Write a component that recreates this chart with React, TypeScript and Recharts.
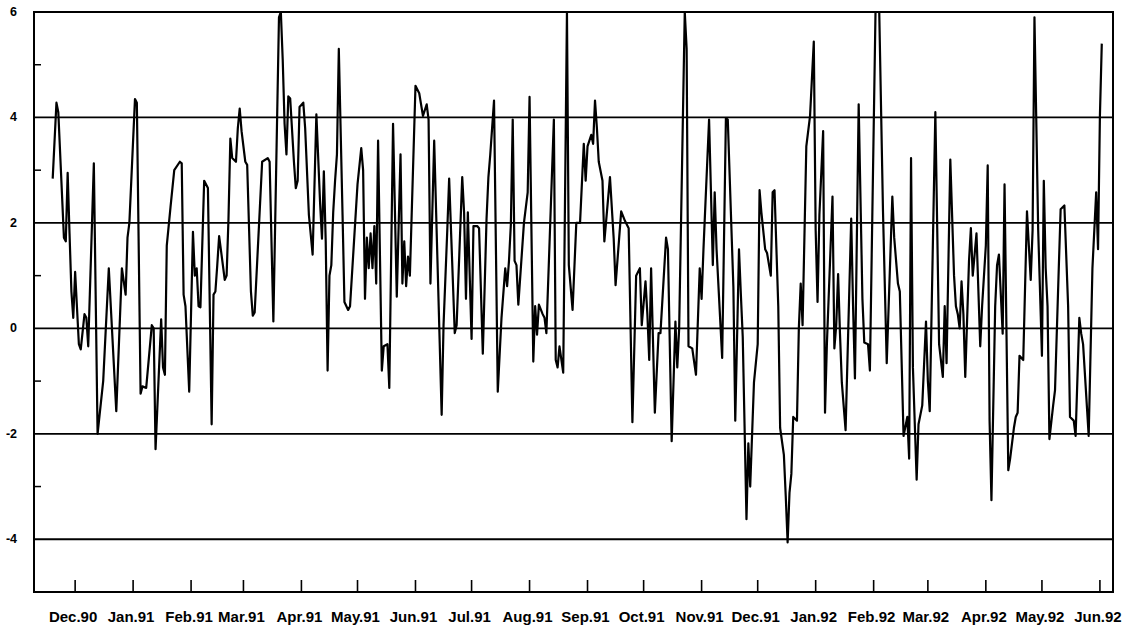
import React from 'react';
import { LineChart, Line, XAxis, YAxis, ReferenceLine, ReferenceArea } from 'recharts';

// day offsets from 1 Dec 1990
const days = [
  -12,-10,-9,-6,-5,-4,-3,-2,-1,0,
  2,3,5,6,7,10,12,15,18,22,
  25,27,28,29,32,33,35,36,38,41,
  42,43,46,47,48,49,51,53,56,57,
  58,59,61,63,64,65,66,67,69,71,
  73,74,75,76,77,79,80,81,82,83,
  84,86,87,88,89,91,92,94,95,96,
  100,103,104,106,109,110,111,112,113,114,
  115,117,118,119,120,122,123,125,127,129,
  131,132,133,134,135,136,137,138,139,140,
  141,143,144,146,147,151,153,154,155,156,
  157,158,159,160,161,162,164,165,167,168,
  170,172,174,175,176,177,178,179,182,184,
  186,188,189,190,192,196,197,199,200,203,
  204,207,208,209,210,212,213,215,216,218,
  220,221,222,224,226,228,230,231,232,233,
  234,235,236,237,240,242,243,245,246,247,
  248,250,251,252,256,257,258,259,261,263,
  264,266,268,270,272,273,274,276,277,278,
  279,280,282,283,286,288,289,292,294,296,
  298,300,302,303,305,306,307,308,310,312,
  313,316,317,319,321,322,323,326,327,328,
  330,332,334,335,336,339,340,341,342,343,
  346,348,349,352,353,355,356,357,359,360,
  361,363,365,366,367,369,370,372,373,374,
  376,377,379,380,381,382,383,384,386,387,
  388,389,391,393,395,396,397,398,400,401,
  402,405,406,407,408,409,410,412,415,416,
  417,419,421,422,424,425,428,430,432,434,
  437,438,440,441,443,445,446,447,448,450,
  451,453,455,456,457,460,462,464,465,466,
  468,470,471,472,473,474,475,476,478,479,
  480,482,484,485,487,488,489,490,492,493,
  494,496,497,499,500,502,503,504,505,507,
  509,510,511,512,513,515,517,518,519,520,
  521,523,524,526,527,529,531,532,534,535,
  537,538,539,542,544,546,547,548,549,
];

const values = [
  2.84,4.28,4.1,1.72,1.65,2.95,1.8,0.7,0.2,1.07,
  -0.3,-0.4,0.27,0.2,-0.34,3.13,-2.0,-1.0,1.14,-1.57,
  1.14,0.64,1.72,2.0,4.35,4.28,-1.24,-1.1,-1.13,0.06,
  0.0,-2.29,0.17,-0.74,-0.88,1.57,2.3,3.0,3.16,3.13,
  0.64,0.42,-1.2,1.83,1.0,1.14,0.42,0.4,2.8,2.66,
  -1.82,0.64,0.7,1.2,1.75,1.2,0.92,1.0,2.08,3.6,
  3.23,3.16,3.8,4.17,3.74,3.16,3.1,0.7,0.24,0.3,
  3.16,3.23,3.16,0.13,5.9,6.0,5.1,3.88,3.3,4.4,
  4.36,3.16,2.66,2.8,4.2,4.28,3.8,2.15,1.4,4.06,
  2.37,1.7,2.98,1.65,-0.8,1.0,1.2,2.2,2.8,3.3,
  5.3,2.15,0.5,0.35,0.42,2.73,3.42,3.0,0.56,1.72,
  1.14,1.8,1.14,1.94,0.85,3.56,-0.8,-0.34,-0.3,-1.13,
  3.88,0.6,3.3,0.85,1.65,0.8,1.36,1.0,4.6,4.46,
  4.03,4.25,3.96,0.85,3.56,-1.64,0.06,1.86,2.84,-0.09,
  0.06,2.87,2.19,0.56,2.2,-0.2,1.94,1.94,1.9,-0.48,
  2.08,2.87,3.3,4.32,-1.2,0.2,1.14,0.8,1.28,1.97,
  3.96,1.28,1.2,0.45,2.0,2.58,4.39,-0.63,0.42,-0.12,
  0.45,0.27,0.2,-0.09,3.96,-0.6,-0.74,-0.34,-0.84,6.0,
  1.2,0.35,2.0,2.0,3.5,2.8,3.45,3.67,3.5,4.32,
  3.81,3.16,2.8,1.65,2.87,1.7,0.82,2.22,2.04,1.9,
  -1.78,1.0,1.14,0.06,0.89,0.27,-0.6,1.14,-1.6,-0.09,
  -0.09,1.72,1.5,-2.14,0.13,-0.74,0.0,6.0,5.3,-0.34,
  -0.38,-0.88,1.14,0.56,1.5,3.96,2.6,1.2,2.58,1.5,
  -0.56,3.99,3.96,0.78,-1.75,1.5,0.64,-0.16,-3.62,-2.18,
  -3.0,-1.03,-0.3,2.62,2.19,1.5,1.43,1.0,2.58,2.62,
  0.42,-1.89,-2.4,-3.18,-4.06,-3.12,-2.76,-1.68,-1.75,0.0,
  0.85,0.06,3.45,4.03,5.44,1.86,0.5,2.15,3.74,-1.6,
  -0.3,2.5,-0.38,0.06,1.03,-0.1,-1.03,-1.93,2.08,0.42,
  -0.95,4.25,0.56,-0.27,-0.3,-0.8,6.0,6.0,2.22,-0.66,
  2.5,1.72,0.85,0.7,-2.04,-1.68,-2.47,3.23,-0.74,-2.87,
  -1.82,-1.46,0.13,-1.0,-1.57,4.1,-0.3,-0.92,0.42,-0.66,
  3.2,1.0,0.42,0.27,0.0,0.89,0.27,-0.92,1.28,1.9,
  1.0,1.8,-0.34,0.42,1.57,3.09,-1.75,-3.26,0.42,1.2,
  1.4,-0.1,2.73,-2.69,-2.47,-1.89,-1.68,-1.6,-0.52,-0.6,
  2.22,1.57,0.92,1.86,5.9,1.86,-0.52,2.8,1.14,0.42,
  -2.1,-1.46,-1.17,1.14,2.26,2.33,0.42,-1.68,-1.75,-2.04,
  0.2,-0.1,-0.3,-2.04,1.14,2.58,1.5,4.03,5.4,
];

const monthTicks = [0, 31, 62, 90, 121, 151, 182, 212, 243, 274, 304, 335, 365, 396, 427, 456, 487, 517, 548];
const monthLabels = [
  'Dec.90', 'Jan.91', 'Feb.91', 'Mar.91', 'Apr.91', 'May.91', 'Jun.91', 'Jul.91', 'Aug.91', 'Sep.91',
  'Oct.91', 'Nov.91', 'Dec.91', 'Jan.92', 'Feb.92', 'Mar.92', 'Apr.92', 'May.92', 'Jun.92',
];
const yTicks = [-5, -4, -3, -2, -1, 0, 1, 2, 3, 4, 5, 6];
const gridValues = [-4, -2, 0, 2, 4];
const xDomain = [-22, 555];
const yDomain = [-5, 6];

const data = days.map((d, i) => ({ day: d, v: values[i] }));

const FONT = '"Liberation Sans", Arial, sans-serif';

const YTick = (props: any) => {
  const { x, y, payload } = props;
  const val = payload.value;
  if (val === -5) return null;
  if (Math.abs(val) % 2 === 1) {
    return <line x1={x} y1={y} x2={x + 7} y2={y} stroke="#000" strokeWidth={1.5} />;
  }
  return (
    <text x={x - 17} y={y} dy={4} textAnchor="end" fontFamily={FONT} fontWeight="bold" fontSize={12.5} fill="#000">
      {val}
    </text>
  );
};

const XTick = (props: any) => {
  const { x, y, payload } = props;
  const idx = monthTicks.indexOf(payload.value);
  return (
    <g>
      <line x1={x} y1={y} x2={x} y2={y - 12} stroke="#000" strokeWidth={1.6} />
      <text x={x - 2} y={y + 30} textAnchor="middle" fontFamily={FONT} fontWeight="bold" fontSize={15} fill="#000">
        {idx >= 0 ? monthLabels[idx] : ''}
      </text>
    </g>
  );
};

export default function App() {
  return (
    <div style={{ position: 'absolute', left: 0, top: 0, width: 1134, height: 628, background: '#fff' }}>
      <LineChart width={1134} height={628} data={data} margin={{ top: 12, right: 21, left: 0, bottom: 0 }}>
        <XAxis
          dataKey="day"
          type="number"
          domain={xDomain}
          ticks={monthTicks}
          interval={0}
          tick={<XTick />}
          tickLine={false}
          tickSize={0}
          tickMargin={0}
          axisLine={false}
          height={36}
          allowDataOverflow
        />
        <YAxis
          type="number"
          domain={yDomain}
          ticks={yTicks}
          interval={0}
          tick={<YTick />}
          tickLine={false}
          tickSize={0}
          tickMargin={0}
          axisLine={false}
          width={34}
          allowDataOverflow
        />
        {gridValues.map((g) => (
          <ReferenceLine key={g} y={g} stroke="#000" strokeWidth={1.8} />
        ))}
        <ReferenceArea x1={xDomain[0]} x2={xDomain[1]} y1={yDomain[0]} y2={yDomain[1]} fill="none" stroke="#000" strokeWidth={2} fillOpacity={0} />
        <Line type="linear" dataKey="v" stroke="#000" strokeWidth={2.2} strokeLinejoin="round" dot={false} isAnimationActive={false} />
      </LineChart>
    </div>
  );
}
